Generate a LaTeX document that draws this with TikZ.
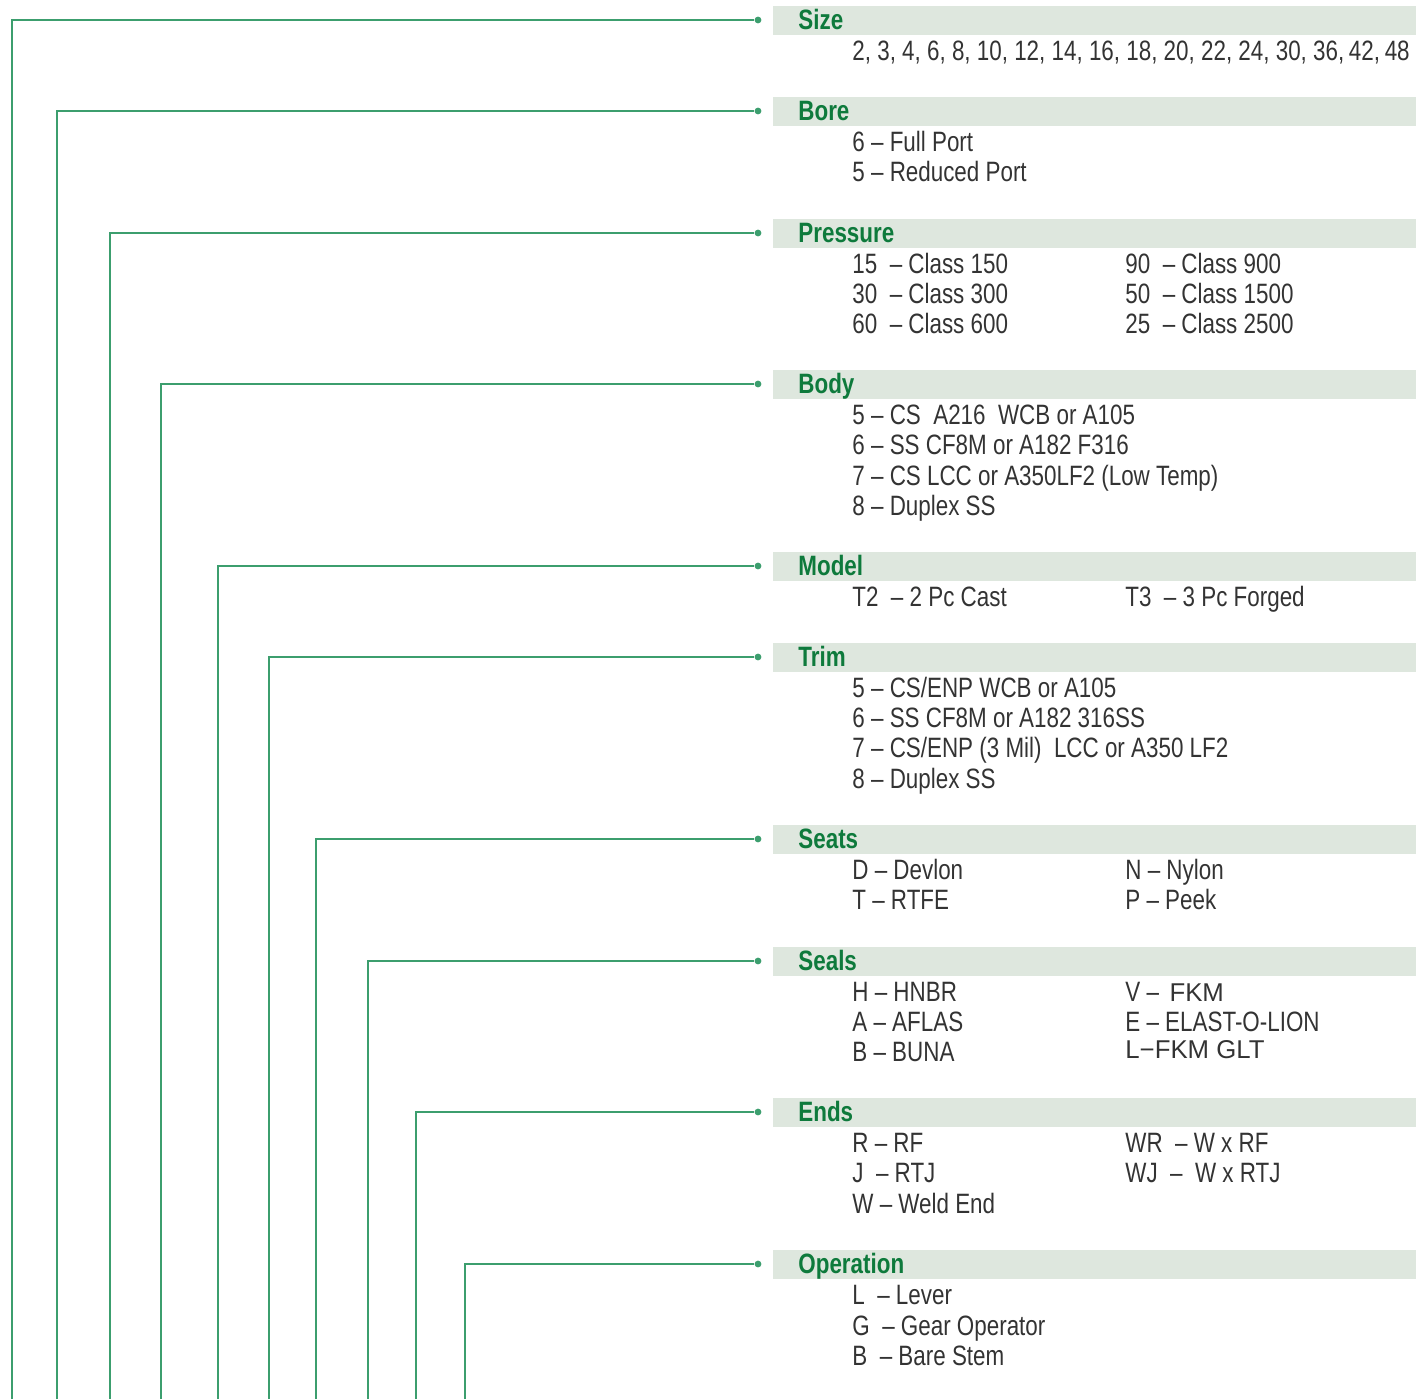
\documentclass[tikz,border=0pt]{standalone}
\usepackage{fontspec}
\setmainfont[FakeStretch=0.8]{Liberation Sans}
\newfontfamily\widefont[Scale=0.92]{Liberation Sans}
\definecolor{leadgreen}{HTML}{3C9E6E}
\definecolor{headgreen}{HTML}{0E7A3C}
\definecolor{bandgray}{HTML}{DEE7DE}
\definecolor{itemgray}{HTML}{333333}

\begin{document}
\begin{tikzpicture}
    [
        x=0.5pt, y=-0.5pt,
        every node/.style = {inner sep=0pt, anchor=west,
            text height=11pt, text depth=2pt,
            font=\fontsize{14}{16}\selectfont, text=itemgray},
        head/.style = {font=\fontsize{14}{16}\selectfont\bfseries, text=headgreen},
        lead/.style = {draw=leadgreen, line width=1.1pt},
        tip/.style  = {circle, fill=leadgreen, minimum size=3.4pt, anchor=center,
            text height=, text depth=}
    ]
    \useasboundingbox (0,0) rectangle (1422,1399);
    % header bands with their leader lines
    \foreach \name/\y/\x/\label in {size/20/12/Size, bore/111/57/Bore,
        pres/233/110/Pressure, body/384/161/Body, model/566/218/Model,
        trim/657/269/Trim, seats/839/316/Seats, seals/961/368/Seals,
        ends/1112/416/Ends, oper/1264/465/Operation}
    {
        \fill[bandgray] (773,\y-14.5) rectangle (1416,\y+14.5);
        \node[head] (\name) at (798,\y) {\label};
        \node[tip] (\name-tip) at (758,\y) {};
        \coordinate (\name-foot) at (\x,1399);
        \draw[lead] (\name-foot) |- (\name-tip);
    }
    % size
    \node (size-1) at (852,51) {2, 3, 4, 6, 8, 10, 12, 14, 16, 18, 20, 22, 24, 30, 36,\,42,\,48};
    % bore
    \node (bore-1) at (852,142) {6 – Full Port};
    \node (bore-2) at (852,172) {5 – Reduced Port};
    % pressure
    \node (pres-1) at (852,264) {15~~– Class 150};
    \node (pres-2) at (852,294) {30~~– Class 300};
    \node (pres-3) at (852,324) {60~~– Class 600};
    \node (pres-4) at (1125,264) {90~~– Class 900};
    \node (pres-5) at (1125,294) {50~~– Class 1500};
    \node (pres-6) at (1125,324) {25~~– Class 2500};
    % body
    \node (body-1) at (852,415) {5 – CS~~A216~~WCB or A105};
    \node (body-2) at (852,445) {6 – SS CF8M or A182 F316};
    \node (body-3) at (852,476) {7 – CS LCC or A350LF2 (Low Temp)};
    \node (body-4) at (852,506) {8 – Duplex SS};
    % model
    \node (model-1) at (852,597) {T2~~– 2 Pc Cast};
    \node (model-2) at (1125,597) {T3~~– 3 Pc Forged};
    % trim
    \node (trim-1) at (852,688) {5 – CS/ENP WCB or A105};
    \node (trim-2) at (852,718) {6 – SS CF8M or A182 316SS};
    \node (trim-3) at (852,748) {7 – CS/ENP (3 Mil)~~LCC or A350 LF2};
    \node (trim-4) at (852,779) {8 – Duplex SS};
    % seats
    \node (seats-1) at (852,870) {D – Devlon};
    \node (seats-2) at (852,900) {T – RTFE};
    \node (seats-3) at (1125,870) {N – Nylon};
    \node (seats-4) at (1125,900) {P – Peek};
    % seals
    \node (seals-1) at (852,992) {H – HNBR};
    \node (seals-2) at (852,1022) {A – AFLAS};
    \node (seals-3) at (852,1052) {B – BUNA};
    \node (seals-4) at (1125,992) {V – {\widefont\,FKM}};
    \node (seals-5) at (1125,1022) {E – ELAST-O-LION};
    \node (seals-6) at (1125,1049) {\widefont L−FKM GLT};
    % ends
    \node (ends-1) at (852,1143) {R – RF};
    \node (ends-2) at (852,1173) {J~~– RTJ};
    \node (ends-3) at (852,1204) {W – Weld End};
    \node (ends-4) at (1125,1143) {WR~~– W x RF};
    \node (ends-5) at (1125,1173) {WJ~~–~~W x RTJ};
    % operation
    \node (oper-1) at (852,1295) {L~~– Lever};
    \node (oper-2) at (852,1326) {G~~– Gear Operator};
    \node (oper-3) at (852,1356) {B~~– Bare Stem};
\end{tikzpicture}
\end{document}
